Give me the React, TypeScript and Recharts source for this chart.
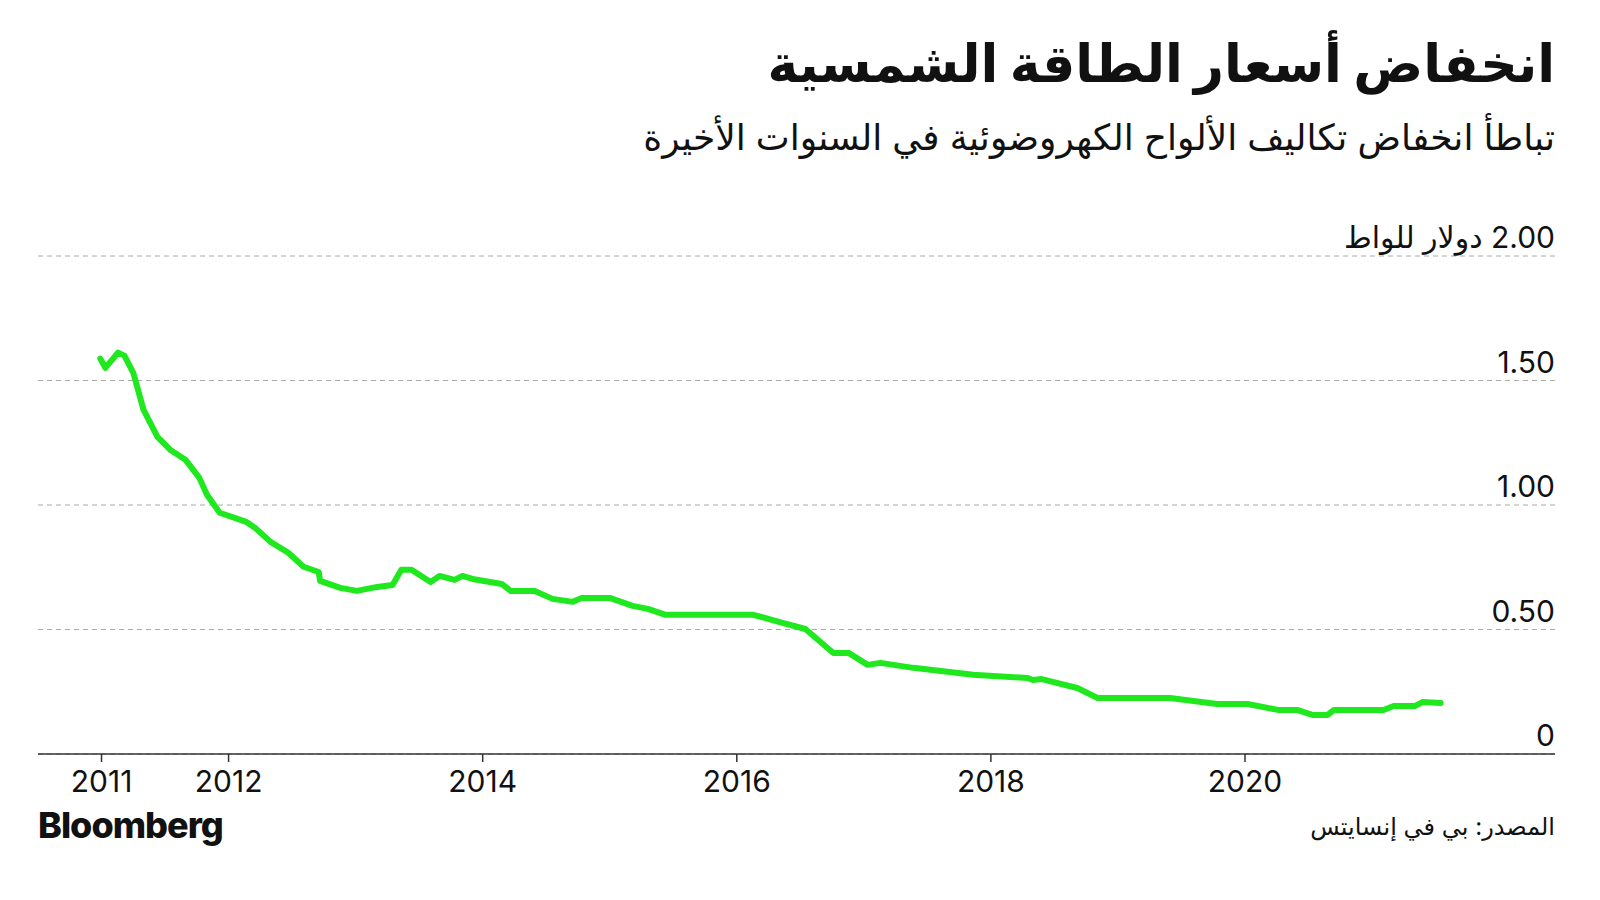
import { LineChart, Line, XAxis, YAxis, CartesianGrid } from 'recharts';

// Time position (decimal year) and module price, USD per watt
const dates = [
  2010.99, 2011.03, 2011.13, 2011.18, 2011.25, 2011.33, 2011.44, 2011.54, 2011.66, 2011.77,
  2011.83, 2011.93, 2012.14, 2012.21, 2012.33, 2012.47, 2012.59, 2012.71, 2012.72, 2012.88,
  2013.01, 2013.17, 2013.29, 2013.36, 2013.44, 2013.59, 2013.66, 2013.78, 2013.84, 2013.92,
  2014.15, 2014.22, 2014.41, 2014.55, 2014.71, 2014.78, 2015.0, 2015.18, 2015.3, 2015.44,
  2016.13, 2016.36, 2016.54, 2016.76, 2016.88, 2017.03, 2017.13, 2017.39, 2017.86, 2018.29,
  2018.33, 2018.4, 2018.68, 2018.84, 2019.41, 2019.78, 2020.02, 2020.26, 2020.41, 2020.53,
  2020.65, 2020.7, 2021.09, 2021.17, 2021.34, 2021.4, 2021.54,
];
const prices = [
  1.588, 1.551, 1.612, 1.6, 1.531, 1.383, 1.274, 1.222, 1.182, 1.109,
  1.041, 0.969, 0.932, 0.908, 0.852, 0.808, 0.752, 0.731, 0.695, 0.667,
  0.655, 0.671, 0.679, 0.74, 0.74, 0.691, 0.715, 0.699, 0.715, 0.703,
  0.683, 0.655, 0.655, 0.623, 0.611, 0.627, 0.627, 0.595, 0.583, 0.559,
  0.559, 0.527, 0.502, 0.406, 0.406, 0.358, 0.366, 0.346, 0.318, 0.305,
  0.297, 0.301, 0.265, 0.225, 0.225, 0.201, 0.201, 0.177, 0.177, 0.157,
  0.157, 0.177, 0.177, 0.193, 0.193, 0.209, 0.205,
];

const xTicks = [2011, 2012, 2014, 2016, 2018, 2020];
const yTicks = [0, 0.5, 1, 1.5, 2];
const yLabels = ['0', '0.50', '1.00', '1.50', '2.00 دولار للواط'];

const title = 'انخفاض أسعار الطاقة الشمسية';
const subtitle = 'تباطأ انخفاض تكاليف الألواح الكهروضوئية في السنوات الأخيرة';
const source = 'المصدر: بي في إنسايتس';

const data = dates.map((d, i) => ({ date: d, price: prices[i] }));

const FONT = "Inter, 'DejaVu Sans', sans-serif";
const RIGHT = 45;

const YTick = (props: any) => {
  const { y, payload } = props;
  const idx = yTicks.indexOf(payload.value);
  return (
    <text
      x={1600 - RIGHT}
      y={y - 8}
      direction="rtl"
      textAnchor="start"
      fontSize={30}
      fill="#111"
      fontFamily={FONT}
    >
      {yLabels[idx]}
    </text>
  );
};

export default function App() {
  return (
    <div style={{ position: 'absolute', left: 0, top: 0, width: 1600, height: 900, background: '#fff', fontFamily: FONT, color: '#111' }}>
      <div style={{ position: 'absolute', right: RIGHT, top: 33, fontSize: 52, fontWeight: 800, direction: 'rtl', whiteSpace: 'nowrap', lineHeight: 1.2 }}>
        {title}
      </div>
      <div style={{ position: 'absolute', right: RIGHT, top: 116, fontSize: 36, direction: 'rtl', whiteSpace: 'nowrap', lineHeight: 1.2 }}>
        {subtitle}
      </div>
      <div style={{ position: 'absolute', left: 0, top: 0 }}>
        <LineChart width={1600} height={900} data={data} margin={{ top: 256, right: RIGHT, bottom: 106, left: 38 }}>
          <CartesianGrid vertical={false} stroke="#aaa" strokeDasharray="5 4" />
          <XAxis
            dataKey="date"
            type="number"
            domain={[2010.5, 2022.44]}
            ticks={xTicks}
            height={40}
            axisLine={{ stroke: '#333', strokeWidth: 1.5 }}
            tickLine={{ stroke: '#333', strokeWidth: 1.5 }}
            tickSize={8}
            tickMargin={9}
            tick={{ fontSize: 30, fill: '#111', fontFamily: FONT }}
          />
          <YAxis
            orientation="right"
            domain={[0, 2]}
            ticks={yTicks}
            width={60}
            mirror
            axisLine={false}
            tickLine={false}
            tick={(p: any) => <YTick {...p} />}
          />
          <Line
            type="linear"
            dataKey="price"
            stroke="#1fe81f"
            strokeWidth={6}
            dot={false}
            strokeLinejoin="round"
            strokeLinecap="round"
            isAnimationActive={false}
          />
        </LineChart>
      </div>
      <div style={{ position: 'absolute', left: 38, top: 803, fontSize: 36, fontWeight: 800, letterSpacing: -1 }}>
        Bloomberg
      </div>
      <div style={{ position: 'absolute', right: RIGHT, top: 812, fontSize: 24, direction: 'rtl', whiteSpace: 'nowrap' }}>
        {source}
      </div>
    </div>
  );
}
